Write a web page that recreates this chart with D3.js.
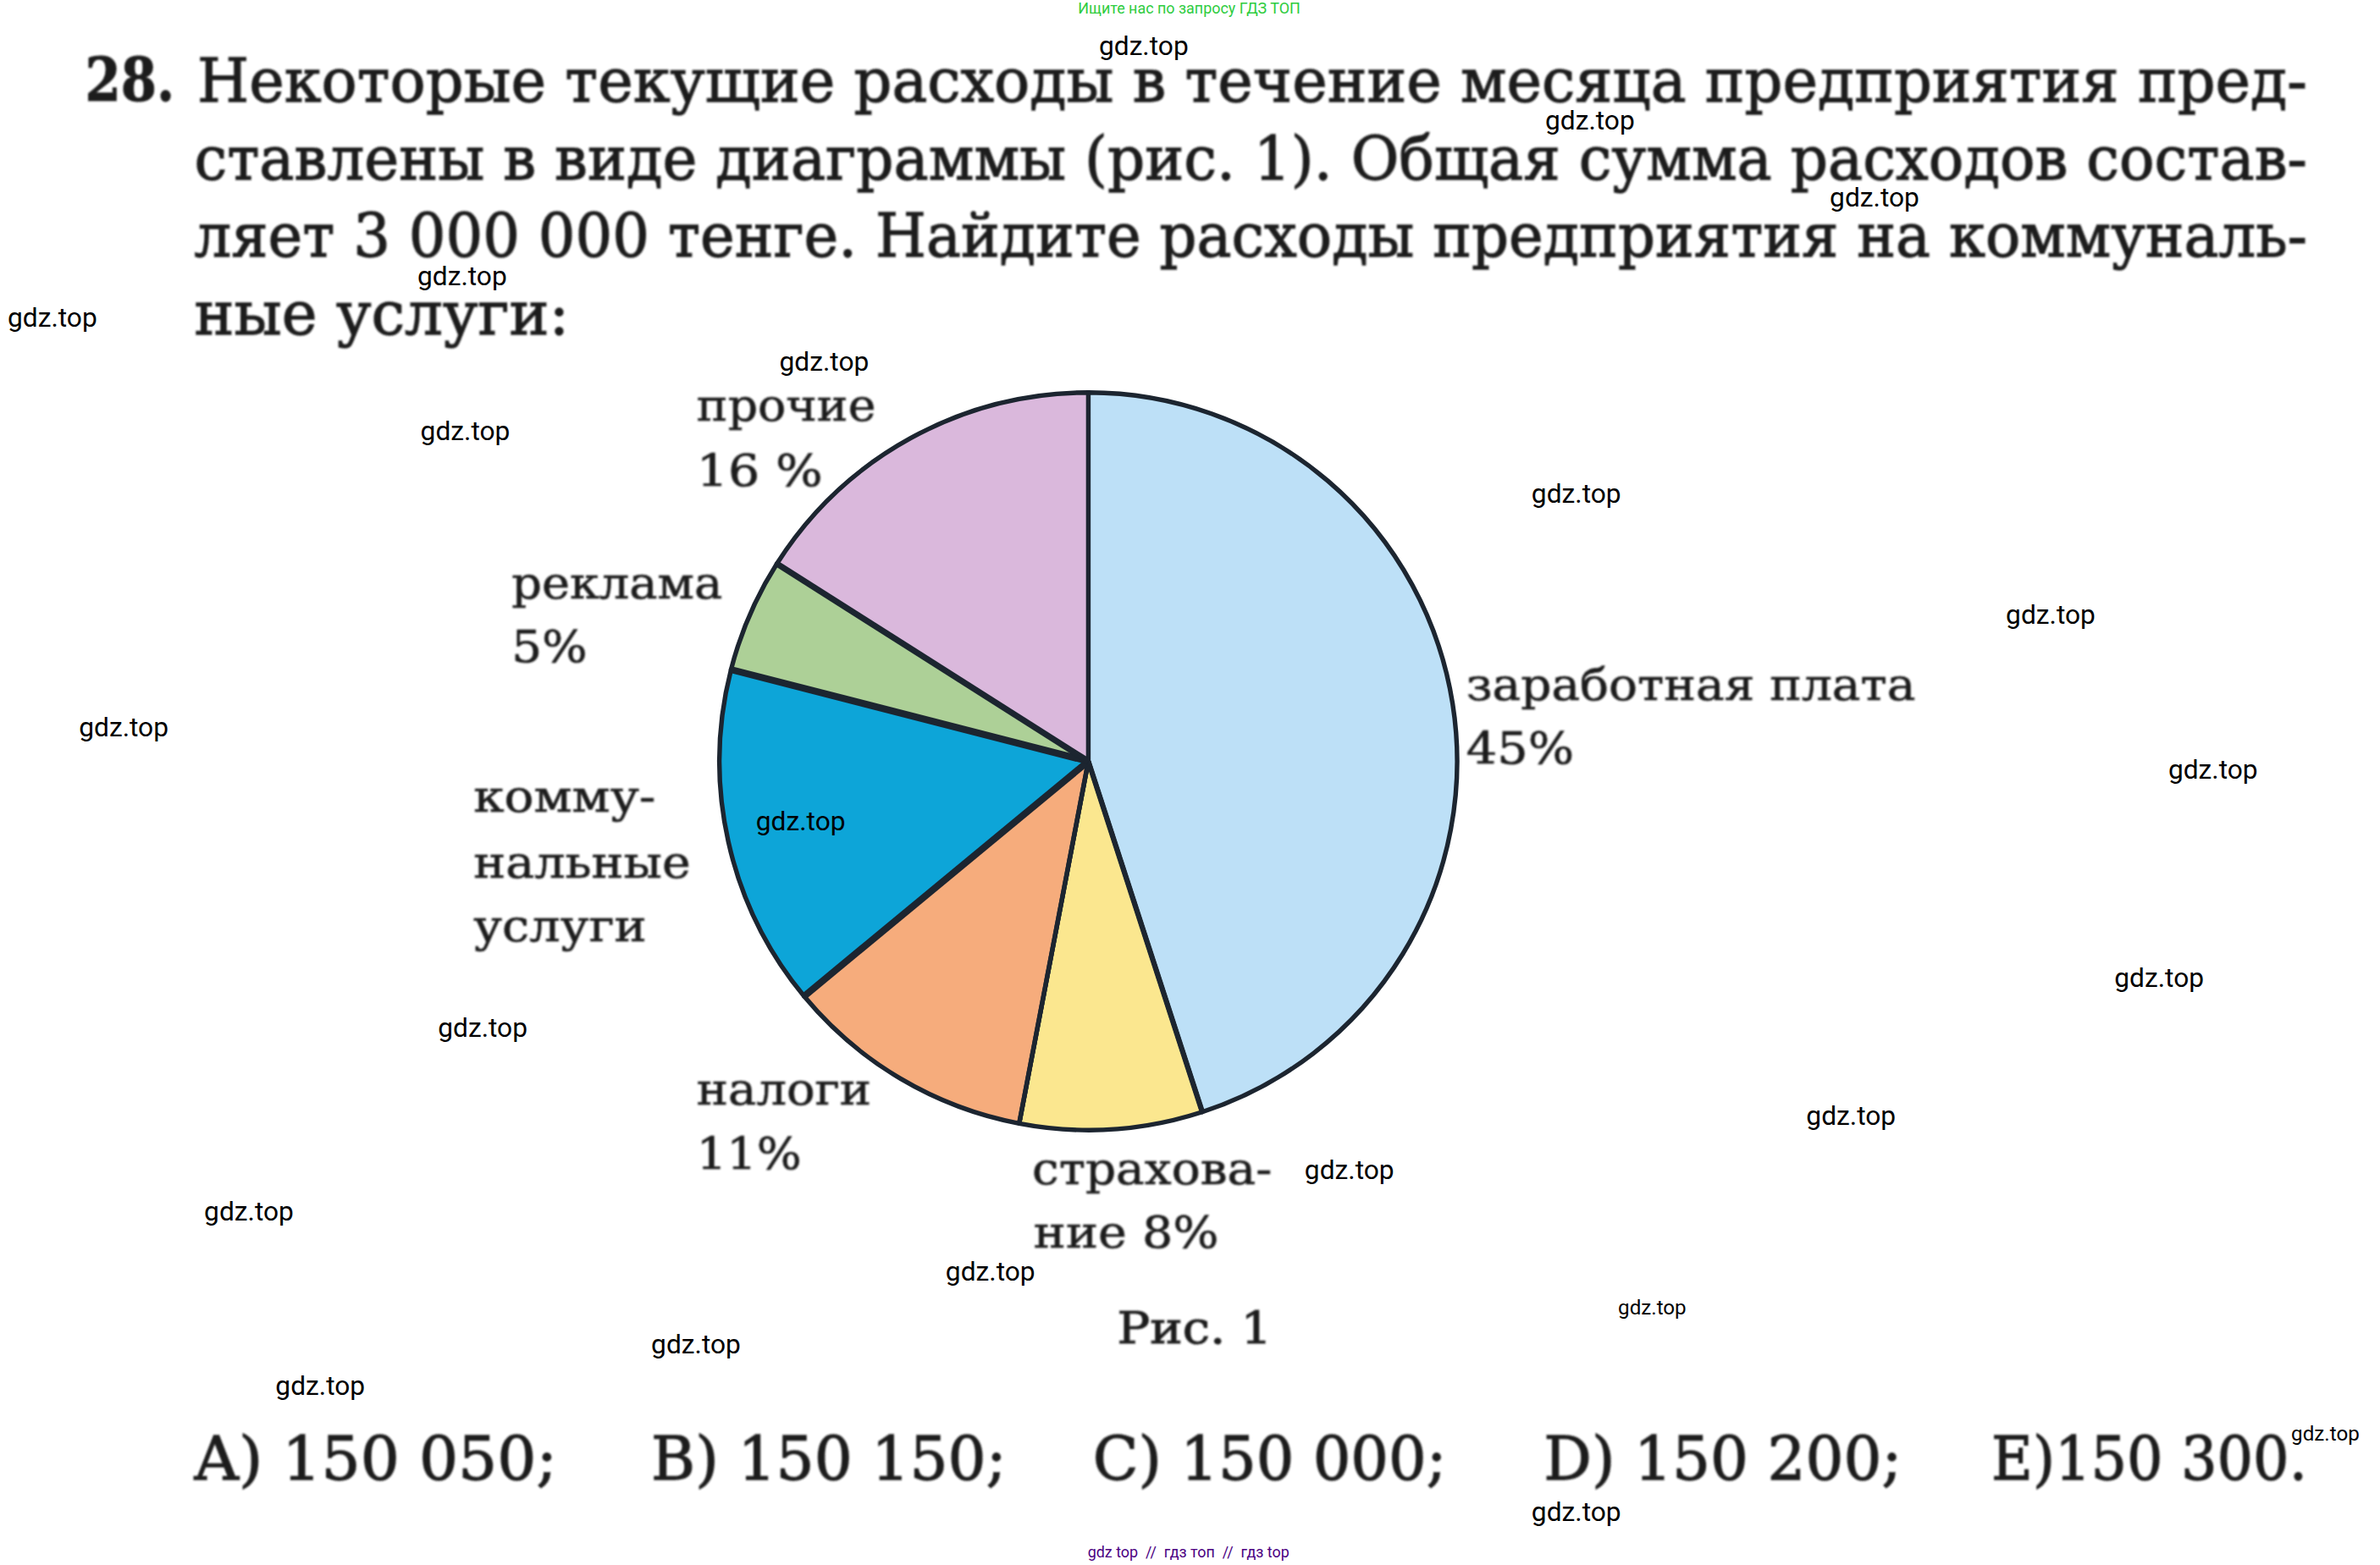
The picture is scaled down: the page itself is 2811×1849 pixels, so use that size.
<!DOCTYPE html>
<html>
<head>
<meta charset="utf-8">
<script src="https://cdn.jsdelivr.net/npm/d3@7"></script>
<style>
  html, body { margin: 0; background: #fff; }
  svg { display: block; }
</style>
</head>
<body>
<svg id="chart"></svg>
<script>
// Pie data, clockwise from 12 o'clock. The utilities share has no label in the picture (it is the question)
const categories = ["заработная плата", "страхование", "налоги", "коммунальные услуги", "реклама", "прочие"];
const shares = [45, 8, 11, 15, 5, 16];
const sliceColors = ["#bde0f7", "#fbe78f", "#f6ac7c", "#0da5d8", "#add097", "#dab8dc"];

const questionLines = [
    "Некоторые текущие расходы в течение месяца предприятия пред-",
    "ставлены в виде диаграммы (рис. 1). Общая сумма расходов состав-",
    "ляет 3 000 000 тенге. Найдите расходы предприятия на коммуналь-",
    "ные услуги:"
];
const answers = ["A) 150 050;", "B) 150 150;", "C) 150 000;", "D) 150 200;", "E)150 300."];

// Everything below is in a 1568 wide coordinate system, scaled up by the viewBox
const W = 1568, H = 1031;
const cx = 717, cy = 501.5, radius = 243;
const serif = "'DejaVu Serif', serif";
const sans = "Roboto, sans-serif";

const svg = d3.select("#chart")
    .attr("width", 2811)
    .attr("height", 1849)
    .attr("viewBox", `0 0 ${W} ${H}`)
    .style("background", "#fff");

// Scanned text looks soft
svg.append("defs").append("filter")
    .attr("id", "soft")
    .append("feGaussianBlur")
    .attr("stdDeviation", 0.5);

const page = svg.append("g").attr("filter", "url(#soft)");

// x, baseline and width of a line are fitted so the scan's line ends line up
function scanText(str, x, y, width, size, weight, ink) {
    page.append("text")
        .attr("x", x)
        .attr("y", y)
        .attr("textLength", width)
        .attr("lengthAdjust", "spacingAndGlyphs")
        .style("font-family", serif)
        .style("font-size", size + "px")
        .style("font-weight", weight || "normal")
        .style("fill", "#1f1f1f")
        .style("stroke", "#1f1f1f")
        .style("stroke-width", ink)
        .text(str);
}

// Question text
scanText("28.", 56, 66, 59, 40, "bold", 0.6);
const questionLayout = [[130, 67, 1390], [128, 118, 1392], [128, 169, 1392], [128, 220, 247]];
questionLines.forEach((line, i) => scanText(line, questionLayout[i][0], questionLayout[i][1], questionLayout[i][2], 40, "normal", 0.7));

// Pie
const pie = d3.pie().sort(null).value(d => d.share);
const arc = d3.arc().innerRadius(0).outerRadius(radius);
const pieData = pie(categories.map((c, i) => ({ category: c, share: shares[i], color: sliceColors[i] })));

const pieGroup = svg.append("g").attr("transform", `translate(${cx}, ${cy})`);

pieGroup.selectAll("path.slice")
    .data(pieData)
    .join("path")
    .attr("class", "slice")
    .attr("d", arc)
    .style("fill", d => d.data.color)
    .style("stroke", "#1c2530")
    .style("stroke-width", 3)
    .style("stroke-linejoin", "round");

// The dividers around the dark blue slice are printed heavier than the others
const dividerWidths = [2.5, 3.5, 3, 4.5, 4.5, 4];
const divider = d3.lineRadial().radius(d => d.r).angle(d => d.a);

pieGroup.selectAll("path.divider")
    .data(pieData)
    .join("path")
    .attr("class", "divider")
    .attr("d", d => divider([{ a: d.startAngle, r: 0 }, { a: d.startAngle, r: radius }]))
    .style("fill", "none")
    .style("stroke", "#1c2530")
    .style("stroke-width", (d, i) => dividerWidths[i]);

// Pie labels
const pieLabels = [
    ["прочие", 459, 277, 118], ["16 %", 459, 320, 83],
    ["реклама", 337, 394, 139], ["5%", 337, 436, 50],
    ["заработная плата", 966, 461, 296], ["45%", 966, 503, 71],
    ["комму-", 312, 535, 120], ["нальные", 312, 578, 143], ["услуги", 312, 620, 114],
    ["налоги", 459, 728, 115], ["11%", 459, 770, 69],
    ["страхова-", 680, 780, 158], ["ние 8%", 681, 822, 122]
];
pieLabels.forEach(l => scanText(l[0], l[1], l[2], l[3], 29, "normal", 0.4));
scanText("Рис. 1", 736, 885, 102, 29, "normal", 0.6);

// Answer options
const answerLayout = [[128, 239], [429, 234], [720, 233], [1017, 236], [1312, 208]];
answers.forEach((a, i) => scanText(a, answerLayout[i][0], 975, answerLayout[i][1], 40, "normal", 0.7));

// Site watermarks
const watermarks = [
    [753.5, 36], [1047.5, 85], [1235, 136], [304.5, 188], [34.5, 215], [543, 244], [306.5, 290], [1038.5, 331],
    [1351, 411], [81.5, 485], [1458, 513], [527.5, 547], [1422.5, 650], [318, 683], [1219.5, 741], [889, 777],
    [164, 804], [652.5, 844], [458.5, 892], [211, 919], [1038.5, 1002]
];
const smallWatermarks = [[1088.5, 866], [1532, 949]];

function overlayText(str, x, y, size, color) {
    svg.append("text")
        .attr("x", x)
        .attr("y", y)
        .attr("text-anchor", "middle")
        .style("font-family", sans)
        .style("font-size", size + "px")
        .style("fill", color)
        .style("white-space", "pre")
        .text(str);
}
watermarks.forEach(p => overlayText("gdz.top", p[0], p[1], 17.7, "#000"));
smallWatermarks.forEach(p => overlayText("gdz.top", p[0], p[1], 13.5, "#000"));
overlayText("Ищите нас по запросу ГДЗ ТОП", 783.5, 9, 10, "#2ecc40");
overlayText("gdz top  //  гдз топ  //  гдз top", 783, 1026, 10, "#4b0082");
</script>
</body>
</html>
